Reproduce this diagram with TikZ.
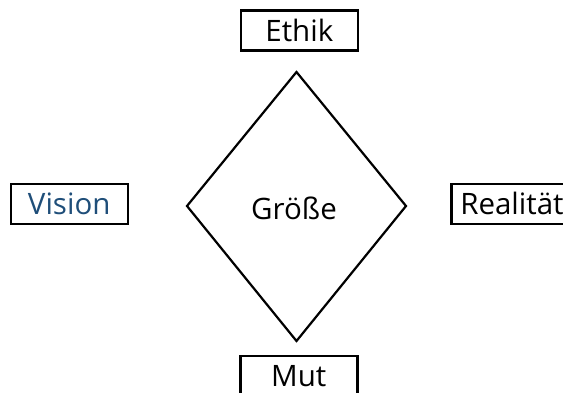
\documentclass[tikz,border=0pt]{standalone}
\usepackage{fontspec}
\setmainfont{Open Sans}
\definecolor{visblue}{HTML}{1F4E79}
\tikzset{
  lbl/.style={draw=black, line width=2.4pt, rectangle, minimum width=117pt, minimum height=40pt, inner sep=0pt, font=\fontsize{29.5}{33}\selectfont},
  dia/.style={draw=black, line width=2.2pt, line join=miter}
}
\begin{document}
\begin{tikzpicture}[x=1pt,y=1pt]
\useasboundingbox (0,0) rectangle (563,392);
\clip (0,0) rectangle (563,392);
\coordinate (T) at (296.5,320);
\coordinate (R) at (406,186);
\coordinate (B) at (296.5,51);
\coordinate (L) at (187,186);
\draw[dia] (T) -- (R) -- (B) -- (L) -- cycle;
\node[font=\fontsize{29.5}{33}\selectfont] (g) at (294,184) {Größe};
\node[lbl] (ethik) at (299.3,361.5) {Ethik};
\node[lbl, text=visblue] (vision) at (69.2,188.3) {Vision};
\node[lbl, minimum width=124pt, text width=108pt, align=left, inner xsep=9pt] (real) at (514.3,188.3) {Realität};
\node[lbl] (mut) at (298.8,16) {Mut};
\end{tikzpicture}
\end{document}
